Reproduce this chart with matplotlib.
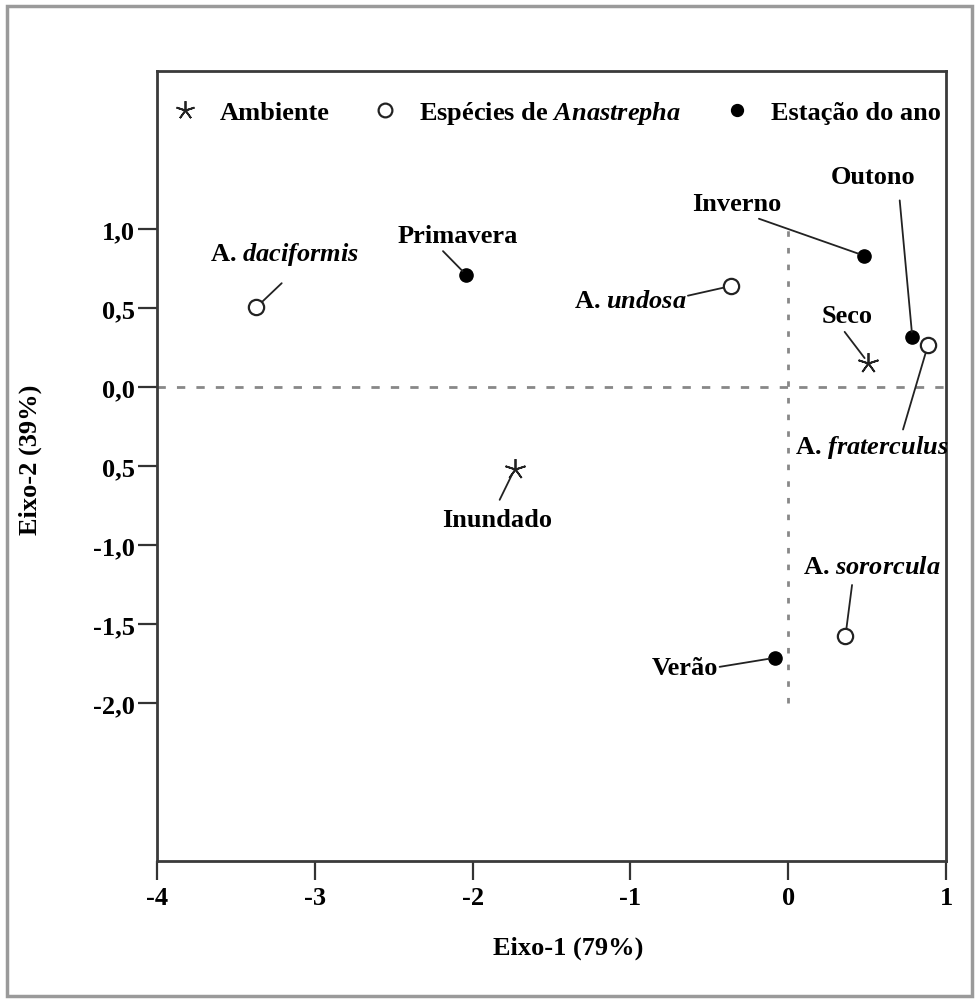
import matplotlib.pyplot as plt
from matplotlib.patches import Rectangle

plt.rcParams['font.family'] = 'Liberation Serif'
plt.rcParams['font.weight'] = 'bold'
plt.rcParams['mathtext.fontset'] = 'custom'
plt.rcParams['mathtext.it'] = 'Liberation Serif:italic:bold'
plt.rcParams['mathtext.rm'] = 'Liberation Serif:bold'

# Ambiente (stars)
amb_names = ['Seco', 'Inundado']
amb_x = [0.505, -1.734]
amb_y = [0.155, -0.52]

# Especies de Anastrepha (open circles)
esp_names = [r'A. $\mathit{daciformis}$', r'A. $\mathit{undosa}$',
             r'A. $\mathit{fraterculus}$', r'A. $\mathit{sororcula}$']
esp_x = [-3.371, -0.36, 0.885, 0.362]
esp_y = [0.504, 0.64, 0.265, -1.577]

# Estacao do ano (filled dots)
est_names = ['Primavera', 'Inverno', 'Outono', 'Verão']
est_x = [-2.04, 0.478, 0.786, -0.086]
est_y = [0.709, 0.832, 0.314, -1.714]

x_ticks = [-4, -3, -2, -1, 0, 1]
y_ticks = [1.0, 0.5, 0.0, -0.5, -1.0, -1.5, -2.0]
y_ticklabels = ['1,0', '0,5', '0,0', '0,5', '-1,0', '-1,5', '-2,0']

# label text position, leader start, text alignment
label_pos = {
    'Seco': ((0.372, 0.451), (0.357, 0.349), 'center'),
    'Inundado': ((-1.842, -0.84), (-1.829, -0.714), 'center'),
    esp_names[0]: ((-3.19, 0.843), (-3.21, 0.657), 'center'),
    esp_names[1]: ((-0.646, 0.546), (-0.636, 0.578), 'right'),
    esp_names[2]: ((0.528, -0.377), (0.727, -0.269), 'center'),
    esp_names[3]: ((0.528, -1.139), (0.404, -1.253), 'center'),
    'Primavera': ((-2.094, 0.957), (-2.188, 0.86), 'center'),
    'Inverno': ((-0.329, 1.16), (-0.186, 1.065), 'center'),
    'Outono': ((0.537, 1.331), (0.706, 1.181), 'center'),
    'Verão': ((-0.447, -1.774), (-0.435, -1.771), 'right'),
}

fs = 19
fig = plt.figure(figsize=(9.79, 10.04), dpi=100)
fig.patches.append(Rectangle((7 / 979, 7 / 1004), 1 - 14 / 979, 1 - 14 / 1004,
                             transform=fig.transFigure, fill=False,
                             edgecolor='#9a9a9a', linewidth=2.5))
ax = fig.add_axes([0.1604, 0.1414, 0.806, 0.7869])

ax.axhline(0, color='#888888', lw=2, ls=(0, (3, 4)), zorder=1)
ax.plot([0, 0], [-2, 1], color='#888888', lw=2, ls=(0, (2, 4)), zorder=1)

star = (5, 2, 0)
ax.plot(amb_x, amb_y, ls='none', marker=star, ms=15, mew=1.3,
        color='#222222', label='Ambiente', zorder=3)
ax.plot(esp_x, esp_y, ls='none', marker='o', ms=11, mew=1.6,
        mfc='white', mec='#222222',
        label=r'Espécies de $\mathit{Anastrepha}$', zorder=3)
ax.plot(est_x, est_y, ls='none', marker='o', ms=9.5,
        color='black', label='Estação do ano', zorder=3)

for names, xs, ys, shrink in [(amb_names, amb_x, amb_y, 4),
                              (esp_names, esp_x, esp_y, 6),
                              (est_names, est_x, est_y, 4)]:
    for name, x, y in zip(names, xs, ys):
        (tx, ty), (lx, ly), ha = label_pos[name]
        ax.annotate('', xy=(x, y), xytext=(lx, ly),
                    arrowprops=dict(arrowstyle='-', color='#222222', lw=1.3,
                                    shrinkA=0, shrinkB=shrink))
        ax.text(tx, ty, name, ha=ha, va='center', fontsize=fs,
                fontweight='bold')

ax.set_xlim(-4, 1)
ax.set_ylim(-3, 2)
ax.set_xticks(x_ticks)
ax.set_xticklabels([str(t) for t in x_ticks])
ax.set_yticks(y_ticks)
ax.set_yticklabels(y_ticklabels)
ax.tick_params(length=14, width=1.6, color='#333333', labelsize=fs,
               direction='out')
ax.tick_params(axis='y', pad=2)
ax.tick_params(axis='x', pad=4)
for s in ax.spines.values():
    s.set_color('#3a3a3a')
    s.set_linewidth(2)

ax.legend(loc='upper left', bbox_to_anchor=(0.009, 0.978), borderaxespad=0,
          ncol=3, frameon=False, fontsize=fs, handletextpad=0.9,
          columnspacing=1.7, handlelength=0.8, markerscale=0.9)

fig.text(568 / 979, 1 - 948 / 1004, 'Eixo-1 (79%)', ha='center', va='center',
         fontsize=fs)
fig.text(30 / 979, 1 - 460 / 1004, 'Eixo-2 (39%)', ha='center', va='center',
         rotation=90, fontsize=fs)

fig.savefig('out.png', dpi=100)
